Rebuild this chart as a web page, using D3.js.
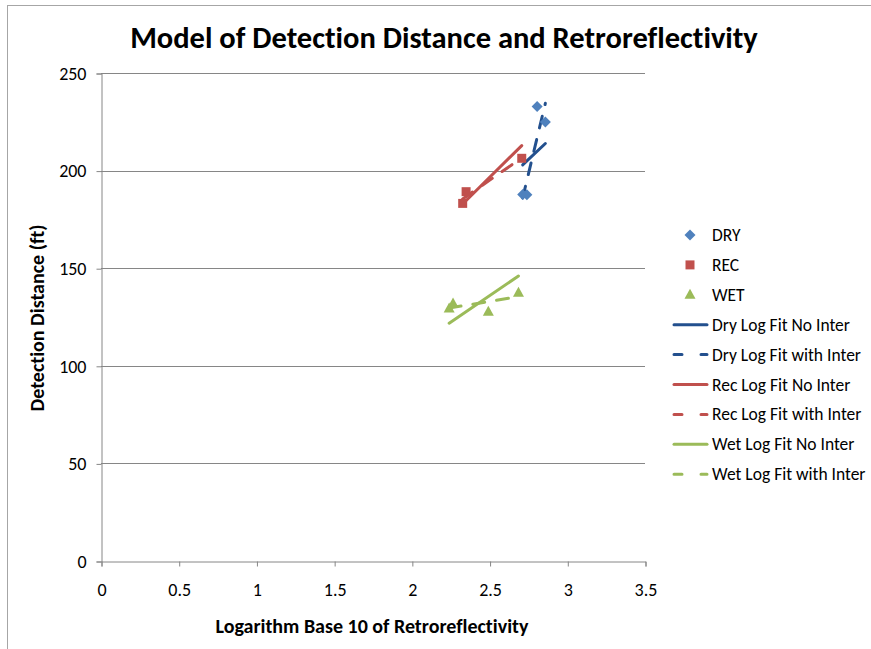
<!DOCTYPE html>
<html><head><meta charset="utf-8">
<script src="https://cdn.jsdelivr.net/npm/d3@7"></script>
<style>body{margin:0;background:#fff}svg{display:block}text{font-variant-ligatures:none}</style>
</head><body>
<svg id="c" width="871" height="649"></svg>
<script>
// ---- data ----
const xTicks = [0, 0.5, 1, 1.5, 2, 2.5, 3, 3.5];
const yTicks = [0, 50, 100, 150, 200, 250];
const dryX = [2.806, 2.859, 2.713, 2.740];
const dryY = [232.9, 224.9, 187.8, 187.6];
const recX = [2.349, 2.327, 2.707];
const recY = [189.2, 183.2, 206.3];
const wetX = [2.240, 2.265, 2.492, 2.686];
const wetY = [129.3, 131.9, 127.7, 137.4];
// fitted lines: [x0, y0, x1, y1]
const dryNoInter = [[2.713, 202.9], [2.859, 213.9]];
const dryWithInter = [[2.713, 186.0], [2.859, 234.5]];
const recNoInter = [[2.327, 182.9], [2.707, 212.8]];
const recWithInter = [[2.327, 185.5], [2.707, 206.5]];
const wetNoInter = [[2.240, 121.8], [2.686, 146.0]];
const wetWithInter = [[2.240, 129.6], [2.686, 135.4]];
const legendLabels = ["DRY", "REC", "WET", "Dry Log Fit No Inter", "Dry Log Fit with Inter",
  "Rec Log Fit No Inter", "Rec Log Fit with Inter", "Wet Log Fit No Inter", "Wet Log Fit with Inter"];

const C = {dry: "#4F81BD", rec: "#C0504D", wet: "#9BBB59", navy: "#23508E"};
const svg = d3.select("#c");
const font = "Calibri, Carlito, 'Liberation Sans Narrow', 'Open Sans', sans-serif";

// chart border
svg.append("rect").attr("x", 7.5).attr("y", 5.5).attr("width", 900).attr("height", 700)
  .attr("fill", "none").attr("stroke", "#a6a6a6");

const x = d3.scaleLinear().domain([0, 3.5]).range([101, 645]);
const y = d3.scaleLinear().domain([0, 250]).range([561, 73]);

// gridlines
svg.append("g").selectAll("line").data(yTicks.filter(d => d > 0)).join("line")
  .attr("x1", x(0)).attr("x2", x(3.5)).attr("y1", d => Math.round(y(d)) + 0.5).attr("y2", d => Math.round(y(d)) + 0.5)
  .attr("stroke", "#868686").attr("stroke-width", 1);

// axes
const yAxis = d3.axisLeft(y).tickValues(yTicks).tickSize(5).tickPadding(10).tickFormat(d3.format("d"));
const xAxis = d3.axisBottom(x).tickValues(xTicks).tickSize(5).tickPadding(17).tickFormat(d => String(d));
const gy = svg.append("g").attr("transform", "translate(" + (x(0) + 0.5) + ",0.5)").call(yAxis);
const gx = svg.append("g").attr("transform", "translate(0.5," + (y(0) + 0.5) + ")").call(xAxis);
[gx, gy].forEach(g => {
  g.select(".domain").attr("stroke", "#868686");
  g.selectAll(".tick line").attr("stroke", "#868686");
  g.selectAll("text").attr("fill", "#000").style("font-family", font).style("font-size", "18px");
});

// fit lines
const line = d3.line().x(d => x(d[0])).y(d => y(d[1]));
const fits = [
  [dryNoInter, C.navy, null], [dryWithInter, C.navy, "12,12"],
  [recNoInter, C.rec, null], [recWithInter, C.rec, "12,12"],
  [wetNoInter, C.wet, null], [wetWithInter, C.wet, "12,12"]
];
fits.forEach(f => {
  svg.append("path").attr("d", line(f[0])).attr("fill", "none").attr("stroke", f[1])
    .attr("stroke-width", 3).attr("stroke-linecap", "round")
    .attr("stroke-dasharray", f[2]);
});

// markers
function marker(shape, cx, cy) {
  if (shape === "diamond") { const r = 5.5; return `M${cx},${cy - r}L${cx + r},${cy}L${cx},${cy + r}L${cx - r},${cy}Z`; }
  if (shape === "square") { const r = 4.5; return `M${cx - r},${cy - r}h${2 * r}v${2 * r}h${-2 * r}Z`; }
  const w = 5.5, h = 10; return `M${cx},${cy - h * 0.6}L${cx + w},${cy + h * 0.4}L${cx - w},${cy + h * 0.4}Z`;
}
const series = [[dryX, dryY, "diamond", C.dry], [recX, recY, "square", C.rec], [wetX, wetY, "triangle", C.wet]];
series.forEach(s => {
  svg.append("g").selectAll("path").data(s[0].map((v, i) => [v, s[1][i]])).join("path")
    .attr("d", d => marker(s[2], x(d[0]), y(d[1]))).attr("fill", s[3]);
});

// title & axis titles
svg.append("text").attr("x", 444).attr("y", 48).attr("text-anchor", "middle")
  .style("font-family", font).style("font-weight", "bold").style("font-size", "30.5px")
  .text("Model of Detection Distance and Retroreflectivity");
svg.append("text").attr("x", 372).attr("y", 633).attr("text-anchor", "middle")
  .style("font-family", font).style("font-weight", "bold").style("font-size", "20px")
  .text("Logarithm Base 10 of Retroreflectivity");
svg.append("text").attr("transform", "translate(44,318) rotate(-90)").attr("text-anchor", "middle")
  .style("font-family", font).style("font-weight", "bold").style("font-size", "20px")
  .text("Detection Distance (ft)");

// legend
const lg = svg.append("g");
const legendStyle = [
  ["diamond", C.dry], ["square", C.rec], ["triangle", C.wet],
  ["line", C.navy, null], ["line", C.navy, "8,19"],
  ["line", C.rec, null], ["line", C.rec, "8,19"],
  ["line", C.wet, null], ["line", C.wet, "8,19"]
];
legendLabels.forEach((lab, i) => {
  const yy = 235 + i * 29.9;
  const st = legendStyle[i];
  if (st[0] === "line") {
    lg.append("line").attr("x1", 674).attr("x2", 707).attr("y1", yy).attr("y2", yy)
      .attr("stroke", st[1]).attr("stroke-width", 3).attr("stroke-linecap", "round")
      .attr("stroke-dasharray", st[2]);
  } else {
    lg.append("path").attr("d", marker(st[0], 690, yy)).attr("fill", st[1]);
  }
  lg.append("text").attr("x", 712).attr("y", yy + 6).style("font-family", font).style("font-size", "17.5px")
    .attr("fill", "#000").text(lab);
});
</script>
</body></html>
